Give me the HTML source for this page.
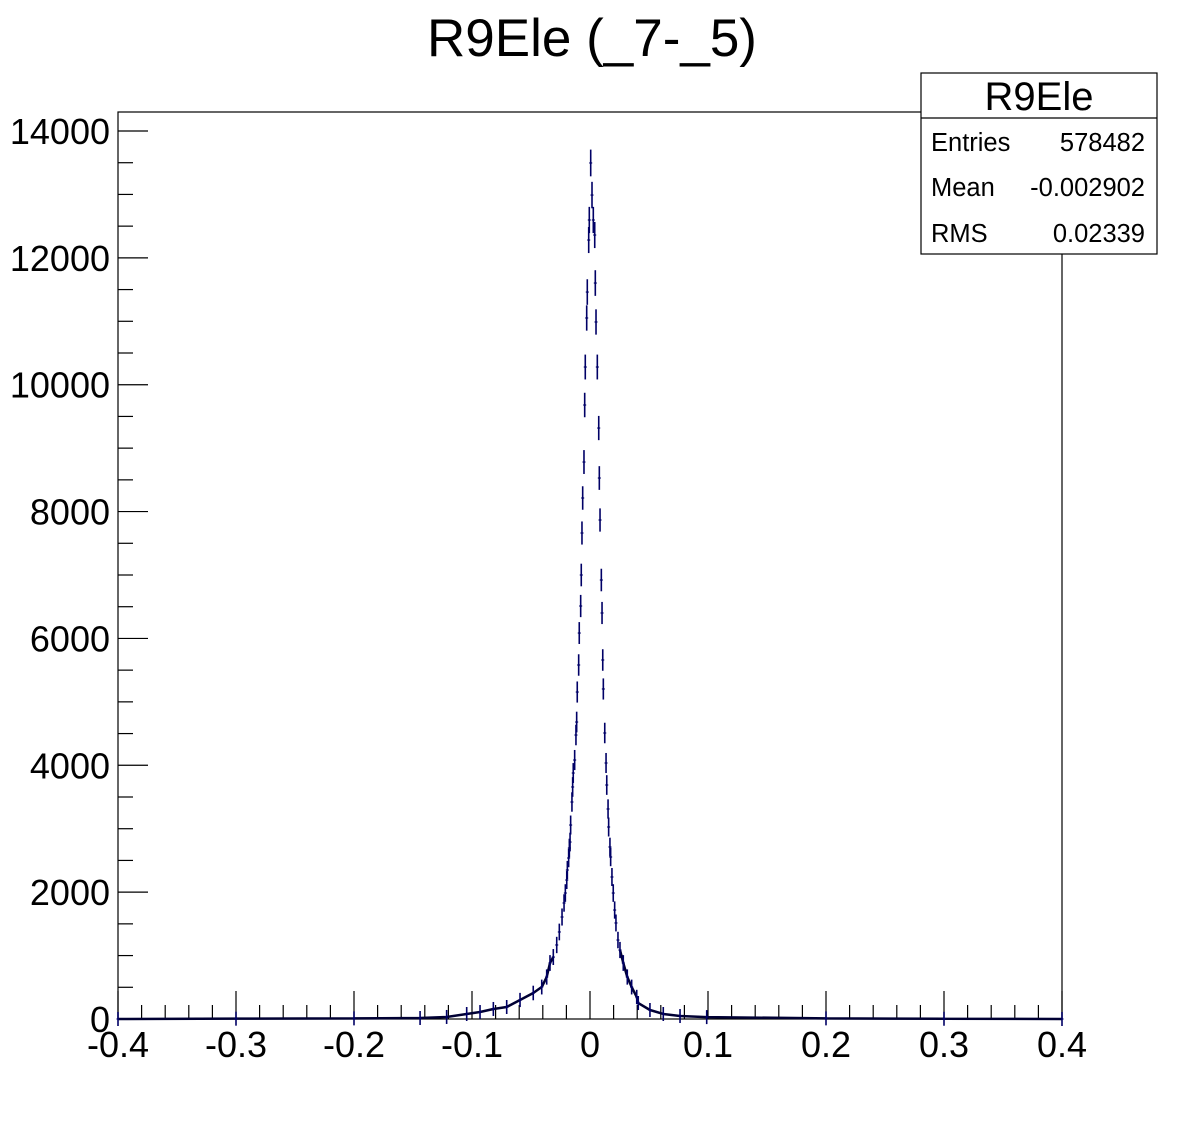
<!DOCTYPE html>
<html><head><meta charset="utf-8"><style>
html,body{margin:0;padding:0;background:#fff;width:1181px;height:1133px;overflow:hidden}
svg{display:block;font-family:"Liberation Sans",sans-serif}
</style></head><body>
<svg id="chart" width="1181" height="1133">
<text x="592" y="56" font-size="53" text-anchor="middle">R9Ele (_7-_5)</text>
<rect x="118" y="112" width="944" height="907" fill="none" stroke="#000" stroke-width="1.2"/>
<g id="axes"></g>
<g id="marks"></g>
<g>
<rect x="921" y="73" width="236" height="181" fill="#fff" stroke="#000" stroke-width="1.2"/>
<line x1="921" y1="118" x2="1157" y2="118" stroke="#000" stroke-width="1.2"/>
<text x="1039" y="110" font-size="40" text-anchor="middle">R9Ele</text>
<text x="931" y="151" font-size="25.5">Entries</text>
<text x="1145" y="151" font-size="25.5" text-anchor="end">578482</text>
<text x="931" y="196" font-size="25.5">Mean</text>
<text x="1145" y="196" font-size="25.5" text-anchor="end">-0.002902</text>
<text x="931" y="242" font-size="25.5">RMS</text>
<text x="1145" y="242" font-size="25.5" text-anchor="end">0.02339</text>
</g>
</svg>
<script>
const binCenters=[-0.4,-0.3,-0.2,-0.144,-0.1215,-0.1045,-0.0932,-0.0819,-0.0706,-0.0593,-0.0481,-0.0409,-0.0367,-0.0339,-0.0311,-0.0282,-0.026,-0.0237,-0.022,-0.0209,-0.0197,-0.0192,-0.0181,-0.0175,-0.0169,-0.0164,-0.0153,-0.0147,-0.0142,-0.013,-0.0119,-0.0113,-0.0108,-0.0096,-0.0091,-0.0079,-0.0074,-0.0068,-0.0062,-0.0051,-0.0045,-0.004,-0.0028,-0.0023,-0.0011,-0.0006,0.0006,0.0017,0.0028,0.004,0.0045,0.0051,0.0062,0.0074,0.0079,0.0085,0.0096,0.0102,0.0108,0.0113,0.0125,0.0136,0.0142,0.0153,0.0158,0.0169,0.0175,0.0186,0.0197,0.0209,0.022,0.0237,0.0254,0.0282,0.0316,0.0353,0.0396,0.0409,0.0508,0.0621,0.0763,0.0989,0.2,0.3,0.4];
const counts=[0,5,10,16,32,79,110,158,189,300,410,504,662,883,977,1167,1372,1608,1829,1986,2191,2349,2538,2696,2790,3058,3421,3658,3878,4083,4477,4682,5155,5581,6085,6511,7000,7662,8214,8781,9680,10279,11052,11461,12281,12597,13496,12990,12597,12360,11603,10989,10279,9317,8529,7867,6921,6401,5660,5203,4509,4036,3689,3311,3027,2712,2554,2239,1986,1718,1514,1245,1088,883,662,504,347,252,142,79,47,30,10,4,0];
const xTickLabels=["-0.4","-0.3","-0.2","-0.1","0","0.1","0.2","0.3","0.4"];
const yTickLabels=["0","2000","4000","6000","8000","10000","12000","14000"];

const NS="http://www.w3.org/2000/svg";
const X0=118,X1=1062,Y0=1019,Y1=131;
const xs=v=>X0+(v+0.4)/0.8*(X1-X0);
const ys=v=>Y0-v/14000*(Y0-Y1);
function mk(tag,attrs,parent){const e=document.createElementNS(NS,tag);for(const k in attrs)e.setAttribute(k,attrs[k]);parent.appendChild(e);return e;}
const axes=document.getElementById('axes');
for(let i=0;i<=40;i++){
  const v=-0.4+i*0.02;const px=xs(v);const major=i%5===0;
  const t=mk('line',{x1:px,x2:px,y1:Y0,y2:Y0-(major?28:14),stroke:'#000','stroke-width':1.2},axes);
  
  
}
xTickLabels.forEach(s=>{
  const t=mk('text',{x:xs(parseFloat(s)),y:1057,'font-size':36,'text-anchor':'middle'},axes);
  t.textContent=s;
  
  
});
for(let i=0;i<=28;i++){
  const v=i*500;const py=ys(v);if(py<112)continue;const major=i%4===0;
  const t=mk('line',{x1:X0,x2:X0+(major?30:15),y1:py,y2:py,stroke:'#000','stroke-width':1.2},axes);
  
  
}
yTickLabels.forEach(s=>{
  const t=mk('text',{x:110,y:ys(parseFloat(s))+13,'font-size':36,'text-anchor':'end'},axes);
  t.textContent=s;
  
  
});
const marks=document.getElementById('marks');
let d='';
for(let i=0;i<binCenters.length-1;i++){
  if(counts[i]<1100&&counts[i+1]<1100){d+=`M${xs(binCenters[i])},${ys(counts[i])}L${xs(binCenters[i+1])},${ys(counts[i+1])}`;}
}
const tail=mk('path',{d:d,stroke:'#000033',fill:'none','stroke-width':2.5},marks);


binCenters.forEach((b,i)=>{
  const c=counts[i];const px=xs(b),py=ys(c);
  const err=Math.max(Math.sqrt(c)*(Y0-Y1)/14000,1)+6;
  const g=mk('g',{},marks);
  
  
  mk('line',{x1:px,x2:px,y1:py-err,y2:py+err,stroke:'#000066','stroke-width':1.6},g);
  mk('line',{x1:px-1.5,x2:px+1.5,y1:py,y2:py,stroke:'#000066','stroke-width':1.2},g);
});
</script>
</body></html>
